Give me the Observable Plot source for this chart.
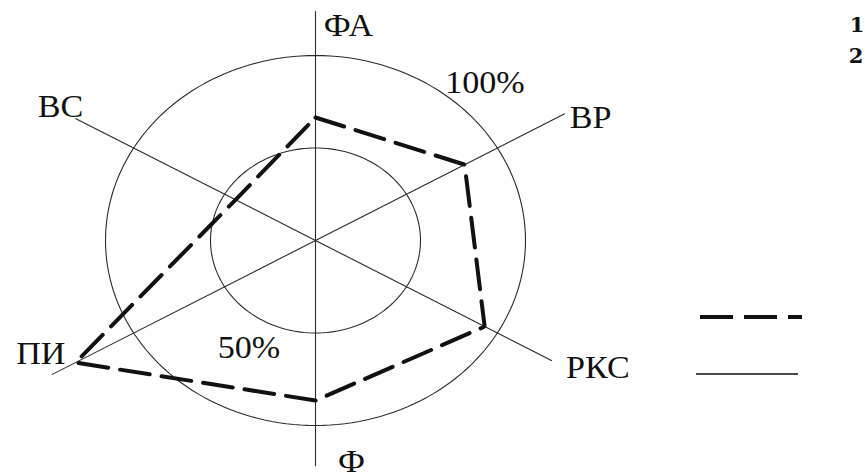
<!DOCTYPE html>
<html><head><meta charset="utf-8">
<script src="https://cdn.jsdelivr.net/npm/d3@7"></script>
<script src="https://cdn.jsdelivr.net/npm/@observablehq/plot@0.6"></script>
<style>
body{margin:0;background:#fff;}
#wrap{position:relative;width:865px;height:475px;overflow:hidden;background:#fff;}
#legend{position:absolute;left:0;top:0;width:865px;height:475px;pointer-events:none;}
</style></head><body><div id="wrap"></div>
<script>
// ---- data ----
const axisNames   = ["ФА","ВР","РКС","Ф","ПИ","ВС"];
const axisAngles  = [90, 30, -30, -90, 210, 150];   // degrees
const axisLengths = [124, 137, 130, 122, 145, 132]; // % of outer ring
const series1     = [66.5, 82, 93, 86.5, 132, 44];  // % (dashed polygon)
const rings       = [50, 100];
const ringLabels  = ["50%", "100%"];
const legendLabels = ["1", "2"];

// ---- styling ----
const labelOffsets = {"ФА":[33,15],"ВР":[26,4],"РКС":[46,7],"Ф":[36,-4],"ПИ":[-11,-21],"ВС":[-15,-11]};
const ringLabelAngles = [240, 45];
const ringLabelOffsets = [[-14,27],[21,-27]];

const rad = a => a * Math.PI / 180;
const axes = axisNames.map((name, i) => ({
  name, a: axisAngles[i], len: axisLengths[i],
  x2: axisLengths[i] * Math.cos(rad(axisAngles[i])),
  y2: axisLengths[i] * Math.sin(rad(axisAngles[i]))
}));
const poly = axisNames.map((name, i) => ({
  name,
  x: series1[i] * Math.cos(rad(axisAngles[i])),
  y: series1[i] * Math.sin(rad(axisAngles[i]))
}));
const ringPts = rings.flatMap(r => d3.range(0, 360, 2).map(t => ({r, x: r*Math.cos(rad(t)), y: r*Math.sin(rad(t))})));
const ringLab = ringLabels.map((t, i) => ({
  t, dx: ringLabelOffsets[i][0], dy: ringLabelOffsets[i][1],
  x: rings[i]*Math.cos(rad(ringLabelAngles[i])), y: rings[i]*Math.sin(rad(ringLabelAngles[i]))
}));

const W = 865, H = 475, CX = 315, CY = 240, KX = 2.1, KY = 1.85;
const font = '"Liberation Serif", "Times New Roman", serif';

const chart = Plot.plot({
  width: W, height: H,
  marginTop: 0, marginBottom: 0, marginLeft: 0, marginRight: 0,
  x: {domain: [-CX/KX, (W-CX)/KX], range: [0, W], axis: null},
  y: {domain: [-(H-CY)/KY, CY/KY], range: [H, 0], axis: null},
  style: {background: "#fff"},
  marks: [
    Plot.line(ringPts, {x: "x", y: "y", z: "r", curve: "linear-closed", stroke: "#2a2a2a", strokeWidth: 1.1}),
    Plot.link(axes, {x1: () => 0, y1: () => 0, x2: "x2", y2: "y2", stroke: "#2a2a2a", strokeWidth: 1.1}),
    Plot.line(poly, {x: "x", y: "y", curve: "linear-closed", stroke: "#111", strokeWidth: 4, strokeDasharray: "30,12", strokeLinejoin: "miter"}),
    ...axes.map(d => Plot.text([d], {x: "x2", y: "y2", text: "name", dx: labelOffsets[d.name][0], dy: labelOffsets[d.name][1], fontSize: 31, fontFamily: font, fill: "#111", textAnchor: "middle"})),
    ...ringLab.map(d => Plot.text([d], {x: "x", y: "y", text: "t", dx: d.dx, dy: d.dy, fontSize: 31, fontFamily: font, fill: "#111", textAnchor: "middle"}))
  ]
});
document.getElementById("wrap").appendChild(chart);
// slight horizontal stretch of the labels, as in the reference
d3.select(chart).selectAll("text").each(function() {
  const t = this.getAttribute("transform");
  if (t) this.setAttribute("transform", t + " scale(1.1,1)");
});

// legend overlay
const lg = document.createElement("div");
lg.id = "legend";
lg.innerHTML = `<svg width="865" height="475" style="position:absolute;left:0;top:0">
  <line x1="700" y1="317" x2="802" y2="317" stroke="#111" stroke-width="4" stroke-dasharray="33,11"/>
  <line x1="696" y1="374" x2="798" y2="374" stroke="#111" stroke-width="1.4"/>
  ${legendLabels.map((t, i) => `<text x="${857 - i}" y="${32 + i*31}" text-anchor="middle" font-family="'DejaVu Serif', serif" font-size="21" font-weight="bold" fill="#111">${t}</text>`).join("")}
</svg>`;
document.getElementById("wrap").appendChild(lg);
</script></body></html>
